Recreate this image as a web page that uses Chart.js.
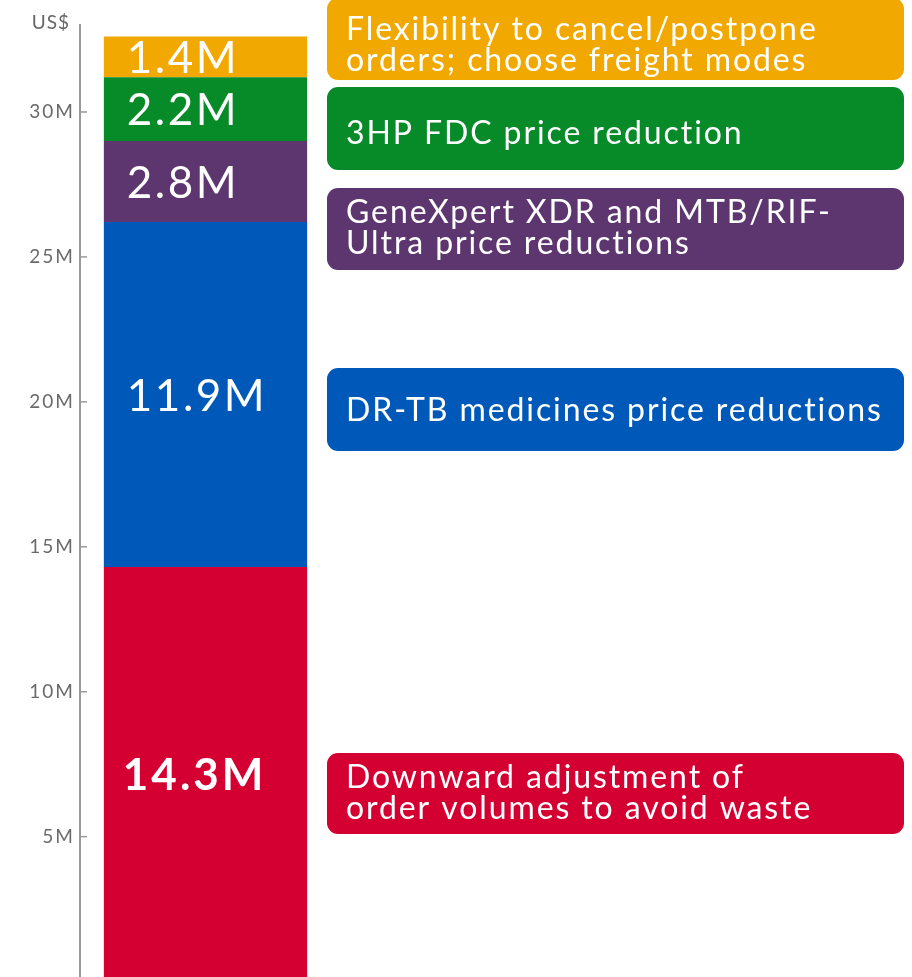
<!DOCTYPE html>
<html>
<head>
<meta charset="utf-8">
<script src="https://cdn.jsdelivr.net/npm/chart.js@4"></script>
<style>
  html, body { margin: 0; padding: 0; background: #fff; overflow: hidden; }
  #wrap { width: 912px; height: 998px; }
</style>
</head>
<body>
<div id="wrap"><canvas id="savingsChart" width="912" height="998"></canvas></div>
<script>
// Savings by driver (US$ millions), stacked bottom to top
const categories = ['Savings'];
const drivers = [
  'Downward adjustment of order volumes to avoid waste',
  'DR-TB medicines price reductions',
  'GeneXpert XDR and MTB/RIF-Ultra price reductions',
  '3HP FDC price reduction',
  'Flexibility to cancel/postpone orders; choose freight modes'
];
const savings = [14.3, 11.9, 2.8, 2.2, 1.4];
const valueLabels = ['14.3M', '11.9M', '2.8M', '2.2M', '1.4M'];
const calloutLines = [
  ['Downward adjustment of', 'order volumes to avoid waste'],
  ['DR-TB medicines price reductions'],
  ['GeneXpert XDR and MTB/RIF-', 'Ultra price reductions'],
  ['3HP FDC price reduction'],
  ['Flexibility to cancel/postpone', 'orders; choose freight modes']
];
const tickValues = [5, 10, 15, 20, 25, 30];
const tickLabels = ['5M', '10M', '15M', '20M', '25M', '30M'];

const colors = ['#d30031', '#0059b8', '#5d366f', '#078a28', '#f1a800'];
// callout box placement (px): top, bottom, text shift
const calloutBoxes = [[753, 834, -1], [368, 451, 0], [188, 270, -2], [87, 170, 4], [-2, 80, 5]];
const FONT = 'Lato, "Open Sans", sans-serif';

const overlayPlugin = {
  id: 'overlay',
  beforeDraw(chart) {
    chart.ctx.letterSpacing = '2px';
  },
  afterDatasetsDraw(chart) {
    const ctx = chart.ctx;
    const y = chart.scales.y;
    ctx.save();

    // inward tick marks
    ctx.strokeStyle = '#9a9a9a';
    ctx.lineWidth = 1.5;
    tickValues.forEach(v => {
      const py = y.getPixelForValue(v);
      ctx.beginPath();
      ctx.moveTo(chart.chartArea.left, py);
      ctx.lineTo(chart.chartArea.left + 7, py);
      ctx.stroke();
    });

    // currency label
    ctx.fillStyle = '#666';
    ctx.font = '19px ' + FONT;
    ctx.letterSpacing = '1px';
    ctx.textAlign = 'right';
    ctx.textBaseline = 'alphabetic';
    ctx.fillText('US$', 70, 29);

    // values inside segments
    ctx.textAlign = 'left';
    chart.data.datasets.forEach((ds, i) => {
      const bar = chart.getDatasetMeta(i).data[0];
      const mid = (bar.y + bar.base) / 2;
      const left = bar.x - bar.width / 2;
      ctx.fillStyle = '#fff';
      ctx.font = (i === 0 ? 'bold 44px ' : '44px ') + FONT;
      ctx.letterSpacing = i === 0 ? '3px' : '2.5px';
      ctx.fillText(valueLabels[i], left + (i === 0 ? 19 : 23), mid + 16);
    });

    // callout boxes
    calloutBoxes.forEach((b, i) => {
      const [top, bottom, shift] = b;
      ctx.fillStyle = colors[i];
      ctx.beginPath();
      ctx.roundRect(327, top, 577, bottom - top, 11);
      ctx.fill();
      const lines = calloutLines[i];
      const lh = 31;
      const center = (top + bottom) / 2 + shift;
      ctx.fillStyle = '#fff';
      ctx.font = '32px ' + FONT;
      ctx.letterSpacing = '1.9px';
      lines.forEach((t, k) => {
        const cy = center + (k - (lines.length - 1) / 2) * lh;
        ctx.fillText(t, 346, cy + 11);
      });
    });
    ctx.restore();
  }
};

const datasets = savings.map((v, i) => ({
  label: drivers[i],
  data: [v],
  backgroundColor: colors[i],
  borderWidth: 0,
  barPercentage: 0.81,
  categoryPercentage: 1
}));

const config = {
  type: 'bar',
  data: { labels: categories, datasets: datasets },
  options: {
    responsive: false,
    animation: false,
    layout: { padding: { top: 25, right: 581, left: 0, bottom: 0 } },
    plugins: {
      legend: { display: false },
      tooltip: { enabled: false }
    },
    scales: {
      x: { stacked: true, display: false },
      y: {
        stacked: true,
        min: 0,
        max: 33,
        afterFit: s => { s.width = 80; },
        afterBuildTicks: s => { s.ticks = tickValues.map(v => ({ value: v })); },
        ticks: {
          callback: v => tickLabels[tickValues.indexOf(v)] || '',
          color: '#6a6a6a',
          font: { family: FONT, size: 19 },
          padding: 5
        },
        grid: { drawOnChartArea: false, drawTicks: false },
        border: { display: true, color: '#9a9a9a', width: 2 }
      }
    }
  },
  plugins: [overlayPlugin]
};

new Chart('savingsChart', config);
</script>
</body>
</html>
